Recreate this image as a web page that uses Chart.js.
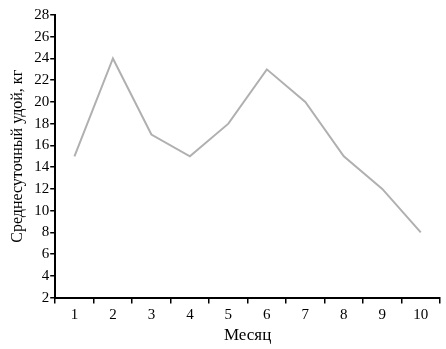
<!DOCTYPE html>
<html>
<head>
<meta charset="utf-8">
<script src="https://cdn.jsdelivr.net/npm/chart.js@4/dist/chart.umd.min.js"></script>
<style>
  html, body { margin: 0; padding: 0; background: #fff; }
  #wrap { width: 446px; height: 349px; }
</style>
</head>
<body>
<div id="wrap"><canvas id="chart"></canvas></div>
<script>
  var months = ['1', '2', '3', '4', '5', '6', '7', '8', '9', '10'];
  var milkYield = [15, 24, 17, 15, 18, 23, 20, 15, 12, 8];
  var yMin = 2, yMax = 28, yStep = 2;

  var family = '"Liberation Serif", "Times New Roman", serif';

  new Chart(document.getElementById('chart'), {
    type: 'line',
    data: {
      labels: months,
      datasets: [{
        data: milkYield,
        borderColor: '#b0b0b0',
        borderWidth: 2,
        pointRadius: 0,
        tension: 0,
        fill: false
      }]
    },
    options: {
      responsive: true,
      maintainAspectRatio: false,
      animation: false,
      layout: { padding: { top: 15, right: 6, bottom: 3, left: 8 } },
      plugins: { legend: { display: false }, tooltip: { enabled: false } },
      scales: {
        x: {
          offset: true,
          grid: { offset: true, drawOnChartArea: false, drawTicks: true, tickLength: 6, color: '#000', lineWidth: 1.5 },
          border: { color: '#000', width: 2 },
          ticks: { color: '#000', font: { family: family, size: 15 }, padding: 2, maxRotation: 0 },
          title: { display: true, text: 'Месяц', color: '#000', font: { family: family, size: 17 }, padding: { top: 0, bottom: 0 } }
        },
        y: {
          min: yMin,
          max: yMax,
          grid: { drawOnChartArea: false, drawTicks: true, tickLength: 5, color: '#000', lineWidth: 1.5 },
          border: { color: '#000', width: 2 },
          ticks: { stepSize: yStep, color: '#000', font: { family: family, size: 15 }, padding: 1 },
          title: { display: true, text: 'Среднесуточный удой, кг', color: '#000', font: { family: family, size: 16 }, padding: { top: 0, bottom: 6 } }
        }
      }
    }
  });
</script>
</body>
</html>
